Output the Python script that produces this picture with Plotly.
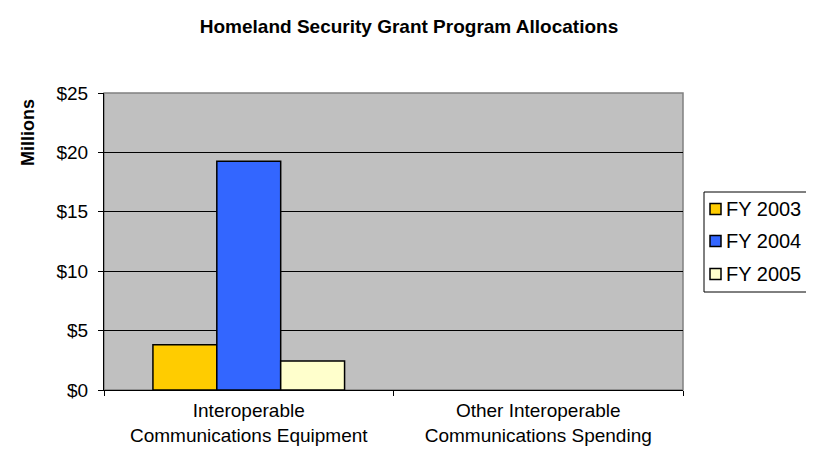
import plotly.graph_objects as go

categories = ["Interoperable<br>Communications Equipment", "Other Interoperable<br>Communications Spending"]
series_names = ["FY 2003", "FY 2004", "FY 2005"]
fy2003 = [3.8, None]
fy2004 = [19.25, None]
fy2005 = [2.45, None]
colors = ["#FFCC00", "#3366FF", "#FFFFCC"]
tick_vals = [0, 5, 10, 15, 20, 25]
tick_text = ["$0", "$5", "$10", "$15", "$20", "$25"]

FONT = "Arial, Liberation Sans, sans-serif"
W, H = 814, 450
L, R, T, B = 96, 139, 85, 68
PW, PH = W - L - R, H - T - B


def px(x):
    return (x - L) / PW


def py(y):
    return (H - B - y) / PH


fig = go.Figure()
for i, (name, vals) in enumerate(zip(series_names, [fy2003, fy2004, fy2005])):
    fig.add_trace(go.Bar(
        x=categories, y=vals, name=name, showlegend=False,
        marker=dict(color=colors[i], line=dict(color="black", width=1.5)),
    ))

shapes = [dict(type="rect", xref="paper", yref="paper", x0=0, x1=1, y0=0, y1=1,
               line=dict(color="#808080", width=1.5), layer="below")]
annotations = [dict(text="<b>Millions</b>", xref="paper", yref="paper",
                    x=px(20), y=py(124), textangle=-90,
                    showarrow=False, xanchor="center", yanchor="middle",
                    font=dict(size=18))]

# custom legend (Excel style: small square close to the text)
shapes.append(dict(type="rect", xref="paper", yref="paper",
                   x0=px(696), x1=px(809), y0=py(284), y1=py(184),
                   line=dict(color="black", width=1), fillcolor="white", layer="above"))
row_y = [201, 233, 266]
for name, col, yy in zip(series_names, colors, row_y):
    shapes.append(dict(type="rect", xref="paper", yref="paper",
                       x0=px(702), x1=px(713), y0=py(yy + 5.5), y1=py(yy - 5.5),
                       line=dict(color="black", width=1.5), fillcolor=col, layer="above"))
    annotations.append(dict(text=name, xref="paper", yref="paper",
                            x=px(716), y=py(yy), xanchor="left", yanchor="middle",
                            showarrow=False, font=dict(size=20)))

fig.update_layout(
    width=W, height=H,
    margin=dict(l=L, r=R, t=T, b=B),
    paper_bgcolor="white", plot_bgcolor="#C0C0C0",
    font=dict(family=FONT, size=19, color="black"),
    title=dict(text="<b>Homeland Security Grant Program Allocations</b>",
               x=401 / W, xanchor="center", y=1 - 18 / H, yanchor="middle",
               font=dict(size=19)),
    barmode="group", bargap=0.338, bargroupgap=0,
    showlegend=False,
    shapes=shapes,
    annotations=annotations,
)
fig.update_xaxes(showline=True, linecolor="black", linewidth=1,
                 ticks="outside", tickson="boundaries", ticklen=5, tickcolor="black",
                 showgrid=False, tickfont=dict(size=19), ticklabelstandoff=3)
fig.update_yaxes(range=[0, 25], tickvals=tick_vals, ticktext=tick_text,
                 showline=True, linecolor="black", linewidth=1,
                 ticks="outside", ticklen=5, tickcolor="black",
                 showgrid=True, gridcolor="black", gridwidth=1, zeroline=False,
                 tickfont=dict(size=19), ticklabelstandoff=6)

fig.write_html("out.html")
